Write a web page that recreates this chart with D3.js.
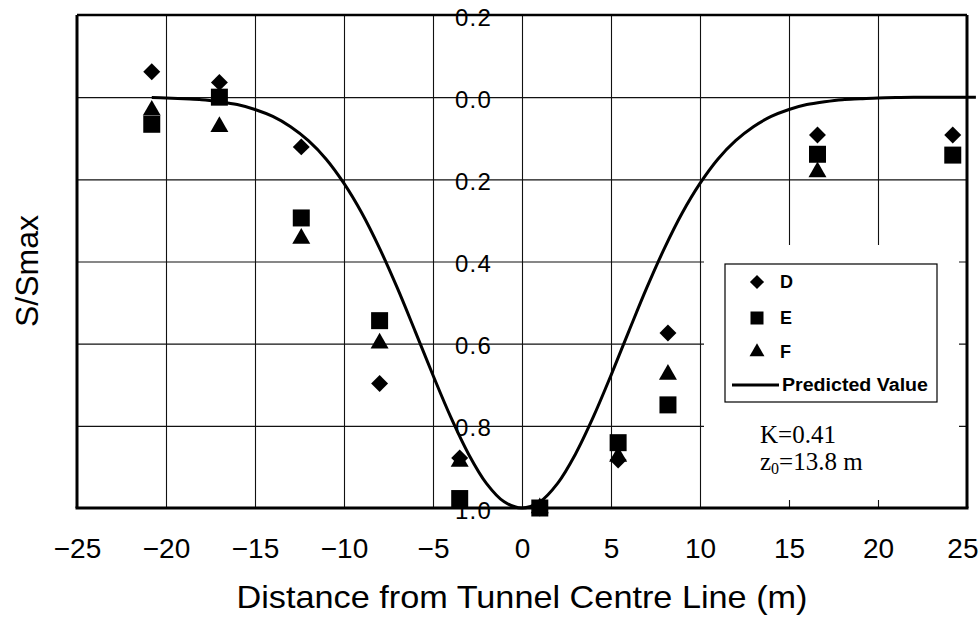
<!DOCTYPE html>
<html><head><meta charset="utf-8">
<script src="https://cdn.jsdelivr.net/npm/d3@7"></script>
<style>body{margin:0;background:#fff}svg{display:block}</style>
</head><body>
<svg id="c" width="980" height="617"></svg>
<script>
// ---- data ----
const xTicks = [-25,-20,-15,-10,-5,0,5,10,15,20,25];
const yTicks = [-0.2,0,0.2,0.4,0.6,0.8,1.0];
const stationX = [-20.8,-17,-12.4,-8,-3.5,1,5.4,8.2,16.6,24.2];
const seriesD = [-0.062,-0.036,0.121,0.697,0.878,1.0,0.883,0.574,0.092,0.092];
const seriesE = [0.066,0.0,0.294,0.544,0.977,1.0,0.841,0.749,0.139,0.141];
const seriesF = [0.032,0.072,0.344,0.599,0.887,1.0,0.875,0.675,0.182,null];
const predX = [-20.8,-20,-19,-18,-17,-16,-15,-14,-13,-12,-11,-10,-9,-8,-7,-6,-5,-4,-3,-2,-1,0,
  1,2,3,4,5,6,7,8,9,10,11,12,13,14,15,16,17,18,19,20,21,22,23,24,25,25.5];
const predY = [0.001,0.002,0.004,0.006,0.011,0.018,0.030,0.047,0.072,0.106,0.151,0.210,0.282,0.368,0.465,0.570,0.677,0.779,0.869,0.940,0.985,1.0,
  0.985,0.940,0.869,0.779,0.677,0.570,0.465,0.368,0.282,0.210,0.151,0.106,0.072,0.047,0.030,0.018,0.011,0.006,0.004,0.002,0.001,0.0005,0.0003,0.0001,0.0001,0];
const legendNames = ["D","E","F","Predicted Value"];
const xTitle = "Distance from Tunnel Centre Line (m)";
const yTitle = "S/Smax";

// ---- layout ----
const L = 77, R = 967, T = 15, B = 508;
const svg = d3.select("#c");
const x = d3.scaleLinear().domain([-25,25]).range([L,R]);
const y = d3.scaleLinear().domain([-0.2,1.0]).range([T,B]);
const sans = "'Liberation Sans', Arial, sans-serif";

// grid
svg.append("g").attr("transform",`translate(0,${B})`)
  .call(d3.axisBottom(x).tickValues(xTicks.slice(1,-1)).tickSize(-(B-T)).tickFormat(""))
  .call(g=>g.select(".domain").remove())
  .call(g=>g.selectAll("line").attr("stroke","#111").attr("stroke-width",1.1));
svg.append("g").attr("transform",`translate(${L},0)`)
  .call(d3.axisLeft(y).tickValues(yTicks.slice(1,-1)).tickSize(-(R-L)).tickFormat(""))
  .call(g=>g.select(".domain").remove())
  .call(g=>g.selectAll("line").attr("stroke","#111").attr("stroke-width",1.1));

// white area behind legend / annotation
svg.append("rect").attr("x",704).attr("y",245).attr("width",255).attr("height",255).attr("fill","#fff");

// y tick labels at x = 0
const yAx = svg.append("g").attr("transform",`translate(${x(0)},0)`)
  .call(d3.axisLeft(y).tickValues(yTicks).tickSize(0).tickPadding(30)
    .tickFormat(d=>Math.abs(d).toFixed(1)));
yAx.select(".domain").remove();
yAx.selectAll("text").attr("font-family",sans).attr("font-size",24)
  .attr("letter-spacing",1.2).attr("fill","#000").attr("dy","0.42em");

// x tick labels
const xAx = svg.append("g").attr("transform",`translate(0,${B})`)
  .call(d3.axisBottom(x).tickValues(xTicks).tickSize(0).tickPadding(30)
    .tickFormat(d=>d<0?"\u2212"+Math.abs(d):String(d)));
xAx.select(".domain").remove();
xAx.selectAll("text").attr("font-family",sans).attr("font-size",28)
  .attr("fill","#000").attr("dy","0.71em");
// keep the last label inside the window
xAx.selectAll(".tick").filter(d=>d===25).select("text")
  .attr("text-anchor","end").attr("x",978-x(25));

// predicted curve
const pred = predX.map((d,i)=>[d,predY[i]]);
svg.append("path").datum(pred)
  .attr("d",d3.line().x(d=>x(d[0])).y(d=>y(d[1])).curve(d3.curveCatmullRom.alpha(0.5)))
  .attr("fill","none").attr("stroke","#000").attr("stroke-width",3);

// markers
const sym = {
  D: d3.symbol().type(d3.symbolSquare).size(144),
  E: d3.symbol().type(d3.symbolSquare).size(289),
  F: d3.symbol().type(d3.symbolTriangle).size(140)
};
const rot = {D:45,E:0,F:0};
[["D",seriesD],["E",seriesE],["F",seriesF]].forEach(([k,vals])=>{
  svg.append("g").selectAll("path")
    .data(stationX.map((d,i)=>[d,vals[i]]).filter(d=>d[1]!==null))
    .join("path")
    .attr("d",sym[k]())
    .attr("transform",d=>`translate(${x(d[0])},${y(d[1])}) rotate(${rot[k]})`)
    .attr("fill","#000");
});

// borders
svg.append("line").attr("x1",L).attr("x2",R).attr("y1",T).attr("y2",T).attr("stroke","#000").attr("stroke-width",2.5);
svg.append("line").attr("x1",L-1.5).attr("x2",R+1.5).attr("y1",B).attr("y2",B).attr("stroke","#000").attr("stroke-width",3);
svg.append("line").attr("x1",L).attr("x2",L).attr("y1",T).attr("y2",B).attr("stroke","#000").attr("stroke-width",3);
svg.append("line").attr("x1",R).attr("x2",R).attr("y1",T).attr("y2",B).attr("stroke","#000").attr("stroke-width",3);

// legend
const lg = svg.append("g");
lg.append("rect").attr("x",725).attr("y",264).attr("width",212).attr("height",138)
  .attr("fill","#fff").attr("stroke","#000").attr("stroke-width",1.2);
const legSym = [
  d3.symbol().type(d3.symbolSquare).size(100),
  d3.symbol().type(d3.symbolSquare).size(169),
  d3.symbol().type(d3.symbolTriangle).size(97)
];
const legY = [282,318,352,385];
[0,1,2].forEach(i=>{
  lg.append("path").attr("d",legSym[i]()).attr("fill","#000")
    .attr("transform",`translate(757,${legY[i]}) rotate(${i===0?45:0})`);
  lg.append("text").attr("x",780).attr("y",legY[i]).attr("dy","0.36em")
    .attr("font-family",sans).attr("font-size",18).attr("font-weight",600).text(legendNames[i]);
});
lg.append("line").attr("x1",732).attr("x2",779).attr("y1",legY[3]).attr("y2",legY[3])
  .attr("stroke","#000").attr("stroke-width",3);
lg.append("text").attr("x",782).attr("y",legY[3]).attr("dy","0.36em")
  .attr("font-family",sans).attr("font-size",18).attr("font-weight",600)
  .attr("textLength",146).attr("lengthAdjust","spacingAndGlyphs").text(legendNames[3]);

// annotation
const serif = "'Liberation Serif', 'Times New Roman', serif";
svg.append("text").attr("x",760).attr("y",443).attr("font-family",serif).attr("font-size",25).text("K=0.41");
const z = svg.append("text").attr("x",760).attr("y",470).attr("font-family",serif).attr("font-size",25);
z.append("tspan").text("z");
z.append("tspan").attr("font-size",16).attr("dy",4).text("0");
z.append("tspan").attr("dy",-4).text("=13.8 m");

// axis titles
svg.append("text").attr("x",522).attr("y",608).attr("text-anchor","middle")
  .attr("font-family",sans).attr("font-size",32).attr("textLength",571)
  .attr("lengthAdjust","spacingAndGlyphs").text(xTitle);
svg.append("text").attr("transform","translate(38,271) rotate(-90)").attr("text-anchor","middle")
  .attr("font-family",sans).attr("font-size",32).text(yTitle);
</script>
</body></html>
